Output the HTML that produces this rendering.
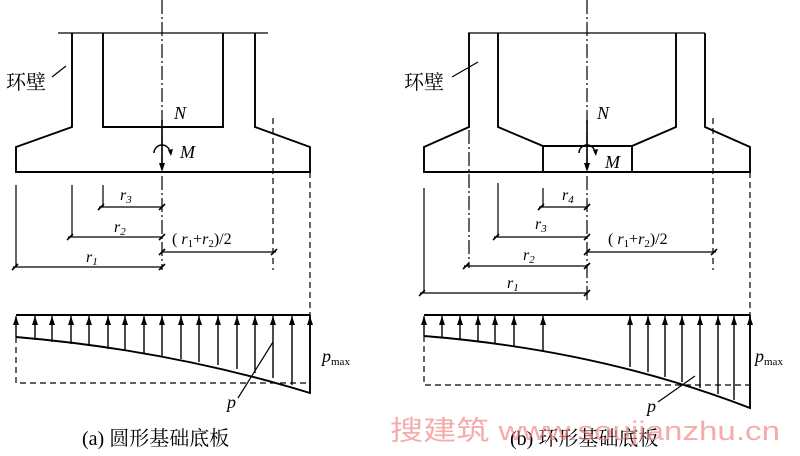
<!DOCTYPE html>
<html><head><meta charset="utf-8"><style>body{margin:0;background:#fff}svg{display:block}</style></head><body>
<svg width="800" height="456" viewBox="0 0 800 456" xmlns="http://www.w3.org/2000/svg" xmlns:xlink="http://www.w3.org/1999/xlink" font-family="Liberation Serif, serif">
<defs>
<path id="ah" d="M-3,9 L0,0 L3,9 Z" fill="#000"/>
<path id="ad" d="M-3,-9 L0,0 L3,-9 Z" fill="#000"/>
<path id="tk" d="M-3,3 L3,-3" stroke="#000" stroke-width="1.6"/>
</defs>
<g stroke="#000" fill="none" stroke-width="1.9">
<line x1="58" y1="33" x2="268" y2="33" stroke-width="1.3"/>
<path d="M72,33 V127 L16,147 V172 H310 V147 L255,127 V33"/>
<path d="M103,33 V127 H223 V33"/>
<line x1="162" y1="0" x2="162" y2="270" stroke-width="1.2" stroke-dasharray="14,3,2,3"/>
<line x1="162" y1="120" x2="162" y2="168" stroke-width="1.6"/>
<path d="M154,153 A8,8 0 0 1 170,153" stroke-width="1.5"/>
<line x1="273" y1="118" x2="273" y2="270" stroke-width="1.2" stroke-dasharray="6,4"/>
<line x1="310" y1="172" x2="310" y2="315" stroke-width="1.2" stroke-dasharray="6,4"/>
<g stroke-width="1.2">
<line x1="103" y1="185" x2="103" y2="207"/><line x1="99" y1="207" x2="163" y2="207"/>
<line x1="72" y1="185" x2="72" y2="237"/><line x1="68" y1="237" x2="163" y2="237"/>
<line x1="16" y1="185" x2="16" y2="267"/><line x1="13" y1="267" x2="163" y2="267"/>
<line x1="162" y1="252" x2="276" y2="252"/>
</g>
<line x1="16" y1="315" x2="310" y2="315"/>
<path d="M16,337 Q170,350 310,393 V315"/>
<path d="M16,337 V383 H310" stroke-width="1.2" stroke-dasharray="6,4"/>
<line x1="273" y1="342" x2="238" y2="398" stroke-width="1.2"/>
<line x1="468" y1="33" x2="705" y2="33" stroke-width="1.3"/>
<path d="M469,33 V127 L424,147 V172 H750 V147 L705,127 V33"/>
<path d="M498,33 V127 L543,146 H632 L676,127 V33"/>
<path d="M543,146 V172 M632,146 V172"/>
<line x1="587" y1="0" x2="587" y2="300" stroke-width="1.2" stroke-dasharray="14,3,2,3"/>
<line x1="587" y1="120" x2="587" y2="168" stroke-width="1.6"/>
<path d="M579,153 A8,8 0 0 1 595,153" stroke-width="1.5"/>
<line x1="469" y1="130" x2="469" y2="268" stroke-width="1.2" stroke-dasharray="14,3,2,3"/>
<line x1="713" y1="118" x2="713" y2="270" stroke-width="1.2" stroke-dasharray="6,4"/>
<line x1="750" y1="172" x2="750" y2="315" stroke-width="1.2" stroke-dasharray="6,4"/>
<g stroke-width="1.2">
<line x1="543" y1="188" x2="543" y2="207"/><line x1="539" y1="207" x2="588" y2="207"/>
<line x1="498" y1="183" x2="498" y2="237"/><line x1="494" y1="237" x2="588" y2="237"/>
<line x1="464" y1="266" x2="588" y2="266"/>
<line x1="424" y1="188" x2="424" y2="293"/><line x1="420" y1="293" x2="588" y2="293"/>
<line x1="587" y1="252" x2="716" y2="252"/>
</g>
<line x1="424" y1="315" x2="750" y2="315"/>
<path d="M424,336 Q600,350 750,408 V315"/>
<path d="M424,336 V385 H750" stroke-width="1.2" stroke-dasharray="6,4"/>
<line x1="695" y1="376" x2="658" y2="402" stroke-width="1.2"/>
<line x1="52" y1="77" x2="66" y2="66" stroke-width="1.2"/>
<line x1="452" y1="77" x2="478" y2="62" stroke-width="1.2"/>
</g>
<use xlink:href="#ad" x="162" y="172"/>
<use xlink:href="#ad" x="587" y="172"/>
<path d="M168,150 l3,6 l2,-7 Z" fill="#000"/>
<path d="M593,150 l3,6 l2,-7 Z" fill="#000"/>
<g stroke="#000" stroke-width="1.4">
<path d="M16,337V316M35,340V316M52,342V316M71,344V316M89,346V316M108,349V316M125,351V316M144,353V316M162,356V316M181,359V316M199,362V316M218,365V316M237,369V316M255,373V316M273,378V316M292,385V316"/>
<path d="M424,336V316M442,338V316M460,340V316M478,342V316M495,344V316M514,346V316M543,351V316M630,367V316M648,372V316M665,377V316M682,382V316M700,388V316M718,394V316M734,400V316"/>
</g>
<g>
<use xlink:href="#ah" x="16" y="316"/><use xlink:href="#ah" x="35" y="316"/><use xlink:href="#ah" x="52" y="316"/><use xlink:href="#ah" x="71" y="316"/><use xlink:href="#ah" x="89" y="316"/><use xlink:href="#ah" x="108" y="316"/><use xlink:href="#ah" x="125" y="316"/><use xlink:href="#ah" x="144" y="316"/><use xlink:href="#ah" x="162" y="316"/><use xlink:href="#ah" x="181" y="316"/><use xlink:href="#ah" x="199" y="316"/><use xlink:href="#ah" x="218" y="316"/><use xlink:href="#ah" x="237" y="316"/><use xlink:href="#ah" x="255" y="316"/><use xlink:href="#ah" x="273" y="316"/><use xlink:href="#ah" x="292" y="316"/><use xlink:href="#ah" x="310" y="316"/>
<use xlink:href="#ah" x="424" y="316"/><use xlink:href="#ah" x="442" y="316"/><use xlink:href="#ah" x="460" y="316"/><use xlink:href="#ah" x="478" y="316"/><use xlink:href="#ah" x="495" y="316"/><use xlink:href="#ah" x="514" y="316"/><use xlink:href="#ah" x="543" y="316"/><use xlink:href="#ah" x="630" y="316"/><use xlink:href="#ah" x="648" y="316"/><use xlink:href="#ah" x="665" y="316"/><use xlink:href="#ah" x="682" y="316"/><use xlink:href="#ah" x="700" y="316"/><use xlink:href="#ah" x="718" y="316"/><use xlink:href="#ah" x="734" y="316"/><use xlink:href="#ah" x="750" y="316"/>
</g>
<g>
<use xlink:href="#tk" x="101" y="207"/><use xlink:href="#tk" x="162" y="207"/>
<use xlink:href="#tk" x="70" y="237"/><use xlink:href="#tk" x="162" y="237"/>
<use xlink:href="#tk" x="15" y="267"/><use xlink:href="#tk" x="162" y="267"/>
<use xlink:href="#tk" x="162" y="252"/><use xlink:href="#tk" x="274" y="252"/>
<use xlink:href="#tk" x="541" y="207"/><use xlink:href="#tk" x="587" y="207"/>
<use xlink:href="#tk" x="496" y="237"/><use xlink:href="#tk" x="587" y="237"/>
<use xlink:href="#tk" x="466" y="266"/><use xlink:href="#tk" x="587" y="266"/>
<use xlink:href="#tk" x="422" y="293"/><use xlink:href="#tk" x="587" y="293"/>
<use xlink:href="#tk" x="587" y="252"/><use xlink:href="#tk" x="714" y="252"/>
</g>
<g font-size="18" font-style="italic">
<text x="174" y="119">N</text><text x="180" y="158">M</text>
<text x="120" y="200" font-size="16">r<tspan font-size="11" dy="3">3</tspan></text>
<text x="114" y="232" font-size="16">r<tspan font-size="11" dy="3">2</tspan></text>
<text x="86" y="262" font-size="16">r<tspan font-size="11" dy="3">1</tspan></text>
<text x="172" y="244" font-size="16" font-style="normal">( <tspan font-style="italic">r</tspan><tspan font-size="11" dy="3">1</tspan><tspan dy="-3">+</tspan><tspan font-style="italic">r</tspan><tspan font-size="11" dy="3">2</tspan><tspan dy="-3">)/2</tspan></text>
<text x="322" y="362">p<tspan font-size="11" font-style="normal" dy="3">max</tspan></text>
<text x="227" y="408">p</text>
<text x="597" y="119">N</text><text x="605" y="168">M</text>
<text x="562" y="200" font-size="16">r<tspan font-size="11" dy="3">4</tspan></text>
<text x="535" y="229" font-size="16">r<tspan font-size="11" dy="3">3</tspan></text>
<text x="523" y="260" font-size="16">r<tspan font-size="11" dy="3">2</tspan></text>
<text x="507" y="288" font-size="16">r<tspan font-size="11" dy="3">1</tspan></text>
<text x="608" y="244" font-size="16" font-style="normal">( <tspan font-style="italic">r</tspan><tspan font-size="11" dy="3">1</tspan><tspan dy="-3">+</tspan><tspan font-style="italic">r</tspan><tspan font-size="11" dy="3">2</tspan><tspan dy="-3">)/2</tspan></text>
<text x="755" y="362">p<tspan font-size="11" font-style="normal" dy="3">max</tspan></text>
<text x="647" y="412">p</text>
</g>
<g font-family="Liberation Serif, Noto Serif CJK SC, serif" font-size="20">
<text x="6" y="89">环壁</text>
<text x="404" y="89">环壁</text>
<text x="82" y="445">(a) 圆形基础底板</text>
<text x="510" y="445">(b) 环形基础底板</text>
</g>
<text x="390" y="440" font-family="Liberation Sans, Noto Sans CJK SC, sans-serif" font-size="27" textLength="390" lengthAdjust="spacingAndGlyphs" fill="#f08080" fill-opacity="0.65">搜建筑 www.soujianzhu.cn</text>
</svg>
</body></html>
